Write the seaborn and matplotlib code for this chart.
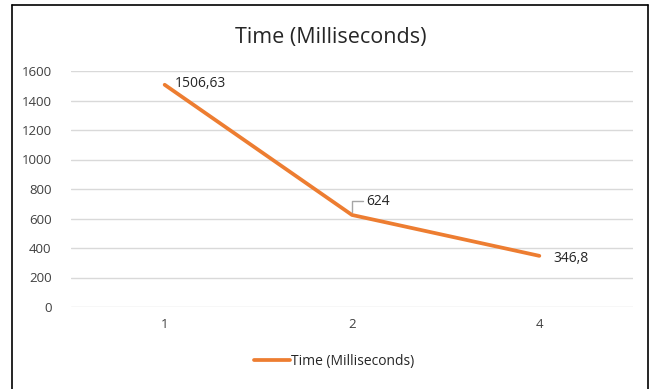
import matplotlib
matplotlib.use("Agg")
import matplotlib.pyplot as plt
import seaborn as sns
import pandas as pd
from matplotlib.lines import Line2D

categories = ["1", "2", "4"]
times = [1506.63, 624, 346.8]
labels = ["1506,63", "624", "346,8"]
yticks = [0, 200, 400, 600, 800, 1000, 1200, 1400, 1600]
series_name = "Time (Milliseconds)"

sns.set_theme(style="white")
plt.rcParams["font.family"] = ["Open Sans", "DejaVu Sans"]

df = pd.DataFrame({"x": categories, "y": times, "s": series_name})

fig = plt.figure(figsize=(6.54, 3.89), dpi=100)
ax = fig.add_axes([71/654, 1-307/389, (633-71)/654, (307-71)/389])

orange = "#ED7D31"
sns.lineplot(data=df, x="x", y="y", ax=ax, color=orange, linewidth=2.7,
             sort=False, legend=False)

ax.set_xlim(-0.5, 2.5)
ax.set_ylim(0, 1600)
ax.set_yticks(yticks)
ax.set_yticklabels([str(v) for v in yticks])
ax.yaxis.grid(True, color="#D9D9D9", linewidth=1)
ax.set_axisbelow(True)
for sp in ax.spines.values():
    sp.set_visible(False)
ax.tick_params(axis="both", length=0, labelsize=9.5, colors="#404040", pad=14)
ax.tick_params(axis="x", pad=8)
ax.set_xlabel("")
ax.set_ylabel("")

# data labels
ax.annotate(labels[0], (0, times[0]), xytext=(7, 1), textcoords="offset points",
            fontsize=10, color="#262626", va="center", ha="left")
ax.annotate(labels[1], (1, times[1]), xytext=(10, 10), textcoords="offset points",
            fontsize=10, color="#262626", va="center", ha="left",
            arrowprops=dict(arrowstyle="-", color="#A6A6A6", lw=1,
                            connectionstyle="angle,angleA=0,angleB=90,rad=0",
                            shrinkA=0, shrinkB=2))
ax.annotate(labels[2], (2, times[2]), xytext=(10, -2), textcoords="offset points",
            fontsize=10, color="#262626", va="center", ha="left")

fig.text(331/654, 1-37/389, series_name, ha="center", va="center",
         fontsize=15.5, color="#262626")

handle = Line2D([0], [0], color=orange, linewidth=2.7)
fig.legend([handle], [series_name], loc="center", bbox_to_anchor=(334/654, 1-361/389),
           frameon=False, fontsize=10, handlelength=2.6, handletextpad=0.1)

# border (top, left, right)
for xs, ys in [((12/654, 648/654), (1-5/389, 1-5/389)),
               ((12/654, 12/654), (0, 1-5/389)),
               ((648/654, 648/654), (0, 1-5/389))]:
    fig.add_artist(Line2D(xs, ys, color="black", linewidth=1.2, transform=fig.transFigure))

fig.savefig("out.png", dpi=100)
